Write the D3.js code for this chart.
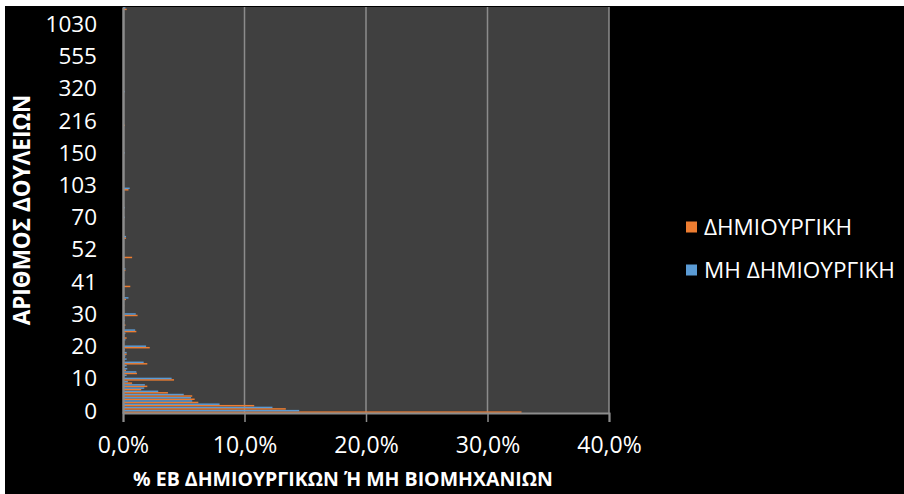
<!DOCTYPE html>
<html>
<head>
<meta charset="utf-8">
<script src="https://cdn.jsdelivr.net/npm/d3@7"></script>
<style>
  html, body { margin: 0; padding: 0; background: #000; overflow: hidden; }
  svg { display: block; }
</style>
</head>
<body>
<svg id="chart" width="904" height="494"></svg>
<script>
// Number of jobs per enterprise (one bar group per value)
const jobCounts = [
  0, 1, 2, 3, 4, 5, 6, 7, 8, 9,
  10, 11, 12, 13, 14, 15, 16, 17, 18, 19,
  20, 21, 22, 23, 24, 25, 26, 27, 28, 29,
  30, 31, 32, 33, 34, 35, 36, 37, 38, 40,
  41, 42, 43, 44, 45, 46, 47, 48, 49, 50,
  52, 53, 54, 55, 57, 58, 60, 62, 65, 67,
  70, 72, 75, 78, 80, 84, 87, 90, 93, 98,
  103, 106, 110, 113, 117, 121, 125, 130, 136, 142,
  150, 155, 160, 167, 173, 180, 186, 193, 200, 208,
  216, 225, 234, 242, 250, 260, 270, 280, 293, 305,
  320, 335, 350, 370, 390, 410, 430, 455, 480, 515,
  555, 590, 620, 660, 700, 750, 800, 850, 900, 960,
  1030, 1120, 1250, 1400, 1650, 2050
];

// Share of creative-industry enterprises (%)
const creativeShare = [
  32.8, 13.4, 10.8, 6.2, 5.9, 5.7, 3.7, 1.5, 2.0, 0.75,
  4.2, 0.1, 1.15, 0.25, 0.1, 2.0, 0.1, 0.15, 0.3, 0.1,
  2.2, 0.1, 0.1, 0.3, 0.1, 1.1, 0.1, 0.2, 0.1, 0.1,
  1.2, 0.1, 0, 0.1, 0, 0.25, 0, 0.1, 0, 0.6,
  0.1, 0, 0, 0, 0.2, 0, 0, 0, 0.75, 0,
  0, 0, 0, 0, 0.25, 0, 0, 0, 0, 0,
  0.1, 0, 0, 0, 0, 0, 0, 0, 0, 0.45,
  0, 0, 0, 0, 0, 0, 0, 0, 0, 0,
  0, 0, 0, 0, 0, 0, 0, 0, 0, 0.15,
  0, 0, 0, 0, 0, 0, 0, 0, 0, 0,
  0, 0, 0, 0, 0, 0, 0, 0, 0, 0,
  0, 0, 0, 0, 0, 0, 0, 0, 0, 0,
  0, 0, 0, 0, 0, 0.3
];

// Share of non-creative enterprises (%)
const nonCreativeShare = [
  14.5, 12.3, 7.95, 5.7, 5.6, 5.0, 2.9, 1.75, 1.8, 0.4,
  4.0, 0.3, 1.1, 0.35, 0.3, 1.7, 0.3, 0.2, 0.3, 0.15,
  1.9, 0.1, 0.2, 0.1, 0.2, 1.0, 0.1, 0.1, 0.15, 0.1,
  1.05, 0.1, 0.05, 0, 0.1, 0.45, 0, 0.05, 0, 0.1,
  0, 0.1, 0, 0.05, 0.2, 0, 0, 0, 0, 0,
  0, 0, 0, 0, 0.25, 0, 0, 0, 0, 0,
  0.15, 0, 0, 0.15, 0, 0, 0, 0, 0, 0.55,
  0, 0, 0, 0, 0, 0, 0, 0, 0, 0,
  0.15, 0, 0, 0, 0, 0, 0, 0, 0, 0,
  0, 0, 0, 0, 0, 0, 0, 0, 0, 0.15,
  0, 0, 0, 0, 0, 0, 0, 0, 0, 0,
  0, 0, 0, 0, 0, 0, 0, 0, 0, 0,
  0, 0, 0, 0, 0, 0.2
];

const seriesNames = ["ΔΗΜΙΟΥΡΓΙΚΗ", "ΜΗ ΔΗΜΙΟΥΡΓΙΚΗ"];
const seriesColors = ["#ED7D31", "#5B9BD5"];
const xTickValues = [0, 10, 20, 30, 40];
const yLabelEvery = 10;
const yTitle = "ΑΡΙΘΜΟΣ ΔΟΥΛΕΙΩΝ";
const xTitle = "% ΕΒ ΔΗΜΙΟΥΡΓΙΚΩΝ Ή ΜΗ ΒΙΟΜΗΧΑΝΙΩΝ";

const rows = jobCounts.map((jobs, i) => ({
  jobs,
  values: [creativeShare[i], nonCreativeShare[i]]
}));

const svg = d3.select("#chart");
const W = 904, H = 494;
const plot = { left: 123, right: 609, top: 7, bottom: 413 };
const font = "'Open Sans', 'Liberation Sans', sans-serif";

svg.append("rect").attr("width", W).attr("height", H).attr("fill", "#000");
// light frame along the top and left edges
svg.append("rect").attr("x", 0).attr("y", 0).attr("width", W).attr("height", 6).attr("fill", "#fff");
svg.append("rect").attr("x", 0).attr("y", 0).attr("width", 5).attr("height", H).attr("fill", "#fff");

const x = d3.scaleLinear().domain([0, 40]).range([plot.left, plot.right]);
const y = d3.scaleBand()
  .domain(jobCounts)
  .range([plot.bottom, plot.top])
  .paddingInner(0.08)
  .paddingOuter(0.04);
const ySub = d3.scaleBand()
  .domain([0, 1])
  .range([y.bandwidth(), 0]);

// plot area background
svg.append("rect")
  .attr("x", plot.left).attr("y", plot.top)
  .attr("width", plot.right - plot.left).attr("height", plot.bottom - plot.top)
  .attr("fill", "#404040");

// vertical gridlines
svg.append("g")
  .selectAll("line")
  .data(xTickValues.filter(d => d > 0))
  .join("line")
  .attr("x1", d => x(d)).attr("x2", d => x(d))
  .attr("y1", plot.top).attr("y2", plot.bottom)
  .attr("stroke", "#8c8c8c").attr("stroke-width", 1.5);

// bars
const groups = svg.append("g")
  .selectAll("g")
  .data(rows)
  .join("g")
  .attr("transform", d => `translate(0,${y(d.jobs)})`);

groups.selectAll("rect")
  .data(d => d.values.map((v, s) => ({ v, s })))
  .join("rect")
  .attr("x", x(0))
  .attr("y", d => ySub(d.s))
  .attr("width", d => x(d.v) - x(0))
  .attr("height", ySub.bandwidth())
  .attr("fill", d => seriesColors[d.s]);

// x axis
const xAxis = svg.append("g")
  .attr("transform", `translate(0,${plot.bottom})`)
  .call(d3.axisBottom(x)
    .tickValues(xTickValues)
    .tickSize(9)
    .tickPadding(15)
    .tickFormat(d => d3.format(".1f")(d).replace(".", ",") + "%"));
xAxis.select(".domain").attr("stroke", "#8c8c8c").attr("stroke-width", 2);
xAxis.selectAll(".tick line").attr("stroke", "#8c8c8c").attr("stroke-width", 1.5);
xAxis.selectAll(".tick text")
  .attr("fill", "#fff")
  .style("font-family", font)
  .style("font-size", "23px");

// y axis
const yAxis = svg.append("g")
  .attr("transform", `translate(${plot.left},0)`)
  .call(d3.axisLeft(y)
    .tickValues(jobCounts.filter((d, i) => i % yLabelEvery === 0))
    .tickSize(0)
    .tickPadding(26));
yAxis.select(".domain").attr("stroke", "#8c8c8c").attr("stroke-width", 2.5);
yAxis.selectAll(".tick text")
  .attr("fill", "#fff")
  .style("font-family", font)
  .style("font-size", "22.5px");

// axis titles
svg.append("text")
  .attr("transform", `translate(30,210) rotate(-90)`)
  .attr("text-anchor", "middle")
  .attr("fill", "#fff")
  .style("font-family", font)
  .style("font-weight", "bold")
  .style("font-size", "22.5px")
  .text(yTitle);

svg.append("text")
  .attr("x", 343).attr("y", 486)
  .attr("text-anchor", "middle")
  .attr("fill", "#fff")
  .style("font-family", font)
  .style("font-weight", "bold")
  .style("font-size", "19.5px")
  .text(xTitle);

// legend
const legend = svg.append("g")
  .selectAll("g")
  .data(seriesNames)
  .join("g")
  .attr("transform", (d, i) => `translate(686,${227 + i * 43})`);
legend.append("rect")
  .attr("x", 0).attr("y", -5.5).attr("width", 11).attr("height", 11)
  .attr("fill", (d, i) => seriesColors[i]);
legend.append("text")
  .attr("x", 18).attr("y", 0)
  .attr("dy", "0.35em")
  .attr("fill", "#fff")
  .style("font-family", font)
  .style("font-size", "22.5px")
  .text(d => d);
</script>
</body>
</html>
